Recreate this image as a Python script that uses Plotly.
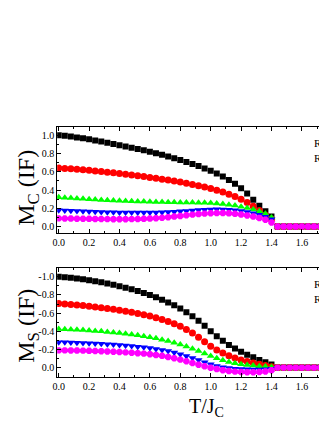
import plotly.graph_objects as go

# reduced temperature T/J_C
t = [0.00, 0.04, 0.08, 0.12, 0.16, 0.20, 0.24, 0.28, 0.32, 0.36,
     0.40, 0.44, 0.48, 0.52, 0.56, 0.60, 0.64, 0.68, 0.72, 0.76,
     0.80, 0.84, 0.88, 0.92, 0.96, 1.00, 1.04, 1.08, 1.12, 1.16,
     1.20, 1.24, 1.28, 1.32, 1.36, 1.40, 1.44, 1.48, 1.52, 1.56,
     1.60, 1.64, 1.68, 1.72, 1.76, 1.80]

# upper panel: M_C (IF)
mc_black = [1.000, 0.993, 0.985, 0.976, 0.966, 0.955, 0.943, 0.930, 0.917, 0.904,
            0.890, 0.877, 0.863, 0.849, 0.835, 0.820, 0.803, 0.786, 0.768, 0.749,
            0.730, 0.708, 0.685, 0.662, 0.637, 0.610, 0.580, 0.548, 0.510, 0.468,
            0.420, 0.362, 0.295, 0.228, 0.168, 0.110, 0, 0, 0, 0, 0, 0, 0, 0, 0, 0]
mc_red = [0.640, 0.636, 0.632, 0.627, 0.622, 0.616, 0.609, 0.602, 0.595, 0.588,
          0.580, 0.572, 0.564, 0.556, 0.547, 0.538, 0.529, 0.519, 0.509, 0.498,
          0.487, 0.475, 0.462, 0.448, 0.433, 0.416, 0.398, 0.378, 0.355, 0.330,
          0.300, 0.265, 0.222, 0.175, 0.125, 0.080, 0, 0, 0, 0, 0, 0, 0, 0, 0, 0]
mc_green = [0.320, 0.316, 0.312, 0.308, 0.304, 0.300, 0.296, 0.292, 0.289, 0.286,
            0.283, 0.280, 0.278, 0.276, 0.274, 0.272, 0.270, 0.268, 0.267, 0.266,
            0.265, 0.264, 0.263, 0.262, 0.260, 0.258, 0.254, 0.248, 0.240, 0.230,
            0.218, 0.204, 0.188, 0.168, 0.140, 0.100, 0, 0, 0, 0, 0, 0, 0, 0, 0, 0]
mc_blue = [0.180, 0.177, 0.174, 0.171, 0.168, 0.165, 0.162, 0.160, 0.158, 0.156,
           0.155, 0.154, 0.153, 0.153, 0.153, 0.154, 0.155, 0.157, 0.160, 0.163,
           0.167, 0.171, 0.176, 0.181, 0.185, 0.188, 0.189, 0.188, 0.184, 0.178,
           0.170, 0.160, 0.147, 0.130, 0.108, 0.080, 0, 0, 0, 0, 0, 0, 0, 0, 0, 0]
mc_magenta = [0.090, 0.089, 0.088, 0.087, 0.086, 0.085, 0.084, 0.083, 0.082, 0.081,
              0.081, 0.081, 0.082, 0.083, 0.085, 0.088, 0.092, 0.097, 0.103, 0.110,
              0.117, 0.124, 0.131, 0.137, 0.142, 0.146, 0.148, 0.148, 0.145, 0.140,
              0.132, 0.122, 0.110, 0.095, 0.075, 0.045, 0, 0, 0, 0, 0, 0, 0, 0, 0, 0]

# lower panel: M_S (IF), negative values on a reversed axis
ms_black = [-1.000, -0.995, -0.988, -0.980, -0.972, -0.962, -0.951, -0.939, -0.926, -0.912,
            -0.897, -0.880, -0.862, -0.843, -0.822, -0.800, -0.775, -0.748, -0.718, -0.686,
            -0.650, -0.610, -0.565, -0.515, -0.460, -0.400, -0.345, -0.295, -0.250, -0.210,
            -0.175, -0.143, -0.113, -0.085, -0.060, -0.035, 0, 0, 0, 0, 0, 0, 0, 0, 0, 0]
ms_red = [-0.705, -0.700, -0.695, -0.689, -0.683, -0.676, -0.668, -0.660, -0.651, -0.642,
          -0.632, -0.621, -0.609, -0.596, -0.582, -0.567, -0.550, -0.530, -0.508, -0.484,
          -0.455, -0.420, -0.380, -0.335, -0.285, -0.235, -0.195, -0.160, -0.130, -0.105,
          -0.083, -0.066, -0.052, -0.038, -0.024, -0.010, 0, 0, 0, 0, 0, 0, 0, 0, 0, 0]
ms_green = [-0.425, -0.423, -0.420, -0.417, -0.413, -0.409, -0.404, -0.399, -0.393, -0.387,
            -0.380, -0.373, -0.365, -0.356, -0.346, -0.335, -0.322, -0.308, -0.292, -0.274,
            -0.254, -0.232, -0.208, -0.182, -0.155, -0.128, -0.103, -0.081, -0.063, -0.049,
            -0.038, -0.029, -0.022, -0.016, -0.011, -0.006, 0, 0, 0, 0, 0, 0, 0, 0, 0, 0]
ms_blue = [-0.280, -0.279, -0.277, -0.275, -0.272, -0.269, -0.266, -0.262, -0.258, -0.254,
           -0.249, -0.244, -0.238, -0.231, -0.224, -0.216, -0.206, -0.195, -0.182, -0.166,
           -0.148, -0.128, -0.106, -0.083, -0.060, -0.038, -0.019, -0.005, 0.005, 0.012,
           0.016, 0.019, 0.020, 0.020, 0.018, 0.012, 0, 0, 0, 0, 0, 0, 0, 0, 0, 0]
ms_magenta = [-0.190, -0.190, -0.189, -0.188, -0.187, -0.185, -0.183, -0.181, -0.178, -0.175,
              -0.172, -0.168, -0.164, -0.159, -0.154, -0.148, -0.140, -0.130, -0.118, -0.104,
              -0.088, -0.070, -0.051, -0.032, -0.014, 0.002, 0.016, 0.028, 0.037, 0.044,
              0.048, 0.050, 0.050, 0.048, 0.042, 0.028, 0, 0, 0, 0, 0, 0, 0, 0, 0, 0]

x_ticks = [0.0, 0.2, 0.4, 0.6, 0.8, 1.0, 1.2, 1.4, 1.6, 1.8]
x_ticktext = ["0.0", "0.2", "0.4", "0.6", "0.8", "1.0", "1.2", "1.4", "1.6", "1.8"]
mc_ticks = [0.0, 0.2, 0.4, 0.6, 0.8, 1.0]
mc_ticktext = ["0.0", "0.2", "0.4", "0.6", "0.8", "1.0"]
ms_ticks = [0.0, -0.2, -0.4, -0.6, -0.8, -1.0]
ms_ticktext = ["0.0", "-0.2", "-0.4", "-0.6", "-0.8", "-1.0"]

SERIF = "Liberation Serif"

# the page body adds 8px at the top/left; the figure runs past the right
# edge of the window so the right-hand frame is cut off, as in the original
W, H = 330, 415
PX_PER_UNIT = 154.8
LEFT = 45

styles = [
    ("#000000", "square", 6),
    ("#ff0000", "circle", 7),
    ("#00ff00", "triangle-up", 7),
    ("#0000ff", "triangle-down", 7),
    ("#ff00ff", "octagon", 7),
]

fig = go.Figure()

for (color, symbol, size), ys in zip(styles, [mc_black, mc_red, mc_green, mc_blue, mc_magenta]):
    fig.add_trace(go.Scatter(
        x=t, y=ys, mode="markers", xaxis="x", yaxis="y",
        marker=dict(color=color, symbol=symbol, size=size, line=dict(width=0)),
        showlegend=False
    ))

for (color, symbol, size), ys in zip(styles, [ms_black, ms_red, ms_green, ms_blue, ms_magenta]):
    fig.add_trace(go.Scatter(
        x=t, y=ys, mode="markers", xaxis="x2", yaxis="y2",
        marker=dict(color=color, symbol=symbol, size=size, line=dict(width=0)),
        showlegend=False
    ))

minor = dict(ticks="inside", ticklen=2, tickcolor="black", dtick=0.1, tick0=0)
axis_common = dict(
    showline=True, linecolor="black", linewidth=1, mirror="allticks",
    ticks="inside", ticklen=4, tickcolor="black", showgrid=False, zeroline=False,
    tickfont=dict(family=SERIF, size=10, color="black"),
    minor=minor,
)

x_domain = [LEFT / W, 1.0]
x_range = [-0.01, -0.01 + (W - LEFT) / PX_PER_UNIT]

fig.update_layout(
    width=W, height=H,
    margin=dict(l=0, r=0, t=0, b=0),
    paper_bgcolor="white", plot_bgcolor="white",
    xaxis=dict(axis_common, domain=x_domain, anchor="y", range=x_range,
               tickvals=x_ticks, ticktext=x_ticktext),
    yaxis=dict(axis_common, domain=[1 - 225 / H, 1 - 119 / H], anchor="x",
               range=[-0.07, 1.09], tickvals=mc_ticks, ticktext=mc_ticktext),
    xaxis2=dict(axis_common, domain=x_domain, anchor="y2", range=x_range,
                tickvals=x_ticks, ticktext=x_ticktext),
    yaxis2=dict(axis_common, domain=[1 - 368.7 / H, 1 - 259.7 / H], anchor="x2",
                range=[0.10, -1.10], tickvals=ms_ticks, ticktext=ms_ticktext),
)

annotations = [
    dict(text="M<sub>C</sub> (IF)", x=15 / W, y=1 - 180 / H, textangle=-90,
         font=dict(family=SERIF, size=24, color="black")),
    dict(text="M<sub>S</sub> (IF)", x=15 / W, y=1 - 318 / H, textangle=-90,
         font=dict(family=SERIF, size=24, color="black")),
    dict(text="T/J<sub>C</sub>", x=197 / W, y=1 - 399 / H,
         font=dict(family=SERIF, size=20, color="black")),
    dict(text="R=", x=305 / W, y=1 - 135 / H, xanchor="left",
         font=dict(family=SERIF, size=11, color="black")),
    dict(text="R<sub>S</sub>", x=305 / W, y=1 - 151 / H, xanchor="left",
         font=dict(family=SERIF, size=11, color="black")),
    dict(text="R=", x=305 / W, y=1 - 276 / H, xanchor="left",
         font=dict(family=SERIF, size=11, color="black")),
    dict(text="R<sub>S</sub>", x=305 / W, y=1 - 292 / H, xanchor="left",
         font=dict(family=SERIF, size=11, color="black")),
]
for a in annotations:
    a.setdefault("xanchor", "center")
    fig.add_annotation(xref="paper", yref="paper", showarrow=False, yanchor="middle", **a)

fig.write_html("out.html")
